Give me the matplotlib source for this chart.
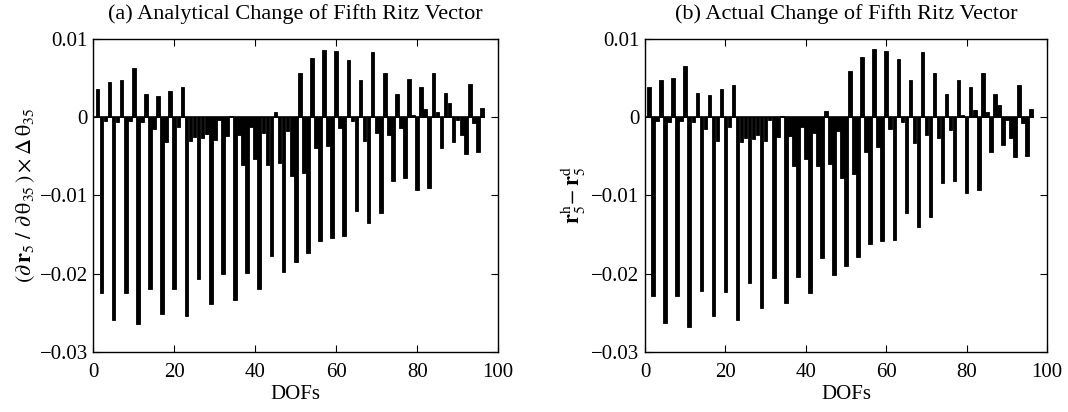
import numpy as np
import matplotlib
matplotlib.use("Agg")
import matplotlib.pyplot as plt

plt.rcParams['font.family'] = ['Liberation Serif', 'DejaVu Serif']
plt.rcParams['mathtext.fontset'] = 'stix'

dofs = np.arange(1, 97)

analytical = [
    0.0036, -0.0225, -0.0005, 0.0045, -0.0259, -0.0006, 0.0047, -0.0225, -0.0005, 0.0063,
    -0.0264, -0.0006, 0.0029, -0.0219, -0.0015, 0.0027, -0.0251, -0.0032, 0.0034, -0.0219,
    -0.0013, 0.0039, -0.0254, -0.0031, -0.0025, -0.0207, -0.0026, -0.0022, -0.0239, -0.0029,
    -0.0004, -0.0200, -0.0024, 0.0002, -0.0234, -0.0023, -0.0061, -0.0199, -0.0012, -0.0054,
    -0.0220, -0.0020, -0.0061, -0.0177, 0.0007, -0.0059, -0.0198, -0.0018, -0.0075, -0.0185,
    0.0057, -0.0071, -0.0173, 0.0076, -0.0040, -0.0158, 0.0086, -0.0037, -0.0154, 0.0085,
    -0.0014, -0.0152, 0.0073, -0.0005, -0.0120, 0.0048, -0.0031, -0.0135, 0.0083, -0.0020,
    -0.0123, 0.0056, -0.0023, -0.0081, 0.0030, -0.0014, -0.0078, 0.0049, 0.0003, -0.0093,
    0.0039, 0.0011, -0.0090, 0.0057, 0.0007, -0.0040, 0.0031, 0.0018, -0.0032, -0.0003,
    -0.0023, -0.0047, 0.0042, -0.0008, -0.0045, 0.0012,
]

actual = [
    0.0039, -0.0228, -0.0005, 0.0048, -0.0263, -0.0006, 0.0050, -0.0229, -0.0005, 0.0065,
    -0.0268, -0.0006, 0.0031, -0.0222, -0.0015, 0.0028, -0.0254, -0.0031, 0.0036, -0.0223,
    -0.0013, 0.0041, -0.0259, -0.0032, -0.0026, -0.0212, -0.0028, -0.0023, -0.0244, -0.0030,
    -0.0004, -0.0205, -0.0025, 0.0002, -0.0238, -0.0024, -0.0062, -0.0204, -0.0012, -0.0054,
    -0.0225, -0.0020, -0.0062, -0.0180, 0.0008, -0.0060, -0.0202, -0.0018, -0.0078, -0.0190,
    0.0059, -0.0073, -0.0178, 0.0077, -0.0045, -0.0162, 0.0087, -0.0038, -0.0158, 0.0085,
    -0.0015, -0.0157, 0.0074, -0.0006, -0.0123, 0.0048, -0.0033, -0.0140, 0.0083, -0.0023,
    -0.0128, 0.0057, -0.0026, -0.0084, 0.0029, -0.0016, -0.0081, 0.0048, 0.0003, -0.0097,
    0.0038, 0.0009, -0.0093, 0.0057, 0.0006, -0.0044, 0.0030, 0.0015, -0.0035, -0.0003,
    -0.0026, -0.0051, 0.0041, -0.0007, -0.0049, 0.0010,
]

titles = ["(a) Analytical Change of Fifth Ritz Vector",
          "(b) Actual Change of Fifth Ritz Vector"]
ylabels = [r"$(\partial\,\mathbf{r}_5\ /\ \partial\,\mathrm{θ}_{35}\,)\times\Delta\,\mathrm{θ}_{35}$",
           r"$\mathbf{r}_5^{\mathrm{h}}\!-\mathbf{r}_5^{\mathrm{d}}$"]
xticks = [0, 20, 40, 60, 80, 100]
yticks = [-0.03, -0.02, -0.01, 0, 0.01]
yticklabels = ["\u22120.03", "\u22120.02", "\u22120.01", "0", "0.01"]

fig = plt.figure(figsize=(10.68, 4.12), dpi=100)
axes = [fig.add_axes([0.0874, 0.1456, 0.379, 0.760]),
        fig.add_axes([0.604, 0.1456, 0.3764, 0.760])]

for ax, vals, title, ylab in zip(axes, [analytical, actual], titles, ylabels):
    ax.bar(dofs, vals, width=0.9, color='black', edgecolor='black', linewidth=0.6)
    ax.plot([dofs[0] - 0.5, dofs[-1] + 0.5], [0, 0], color='black', linewidth=1.2)
    ax.set_xlim(0, 100)
    ax.set_ylim(-0.03, 0.01)
    ax.set_xticks(xticks)
    ax.set_yticks(yticks)
    ax.set_yticklabels(yticklabels)
    ax.tick_params(direction='in', top=True, right=True, length=5, width=0.8,
                   labelsize=15)
    ax.tick_params(axis='x', pad=8)
    ax.tick_params(axis='y', pad=4)
    for s in ax.spines.values():
        s.set_linewidth(1.0)
    ax.set_title(title, fontsize=16, pad=14)
    ax.set_xlabel("DOFs", fontsize=15, labelpad=2)
    ax.set_ylabel(ylab, fontsize=16, labelpad=2)

fig.savefig("out.png", dpi=100)
